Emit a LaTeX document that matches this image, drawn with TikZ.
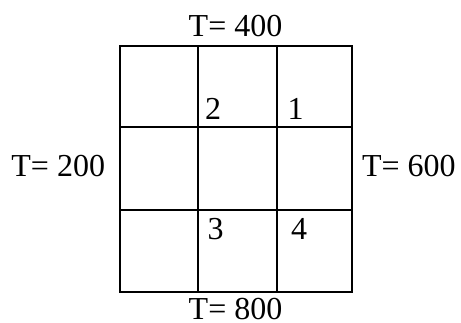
\documentclass[tikz,border=0pt]{standalone}
\usepackage{fontspec}
\setmainfont{Liberation Serif}
\begin{document}
\begin{tikzpicture}[x=1pt,y=-1pt,
  gridline/.style={line width=1.8pt},
  lbl/.style={inner sep=0pt, anchor=base west, font=\fontsize{32}{38}\selectfont},
  num/.style={inner sep=0pt, anchor=base west, font=\fontsize{32}{38}\selectfont}]
\useasboundingbox (0,0) rectangle (461,323);
% grid
\draw[gridline] (120,45.7) rectangle (351.7,291.7);
\draw[gridline] (197.7,45.7) -- (197.7,291.7);
\draw[gridline] (277,45.7) -- (277,291.7);
\draw[gridline] (120,127) -- (351.7,127);
\draw[gridline] (120,209.7) -- (351.7,209.7);
% boundary labels
\node[lbl] (top) at (188.5,36.7) {T= 400};
\node[lbl] (left) at (11.2,176.7) {T= 200};
\node[lbl] (right) at (361.8,176.7) {T= 600};
\node[lbl] (bottom) at (188.5,320) {T= 800};
% cell numbers
\node[num] (n2) at (205,119.3) {2};
\node[num] (n1) at (287.5,119.3) {1};
\node[num] (n3) at (207.5,239.3) {3};
\node[num] (n4) at (291,239.3) {4};
\end{tikzpicture}
\end{document}
